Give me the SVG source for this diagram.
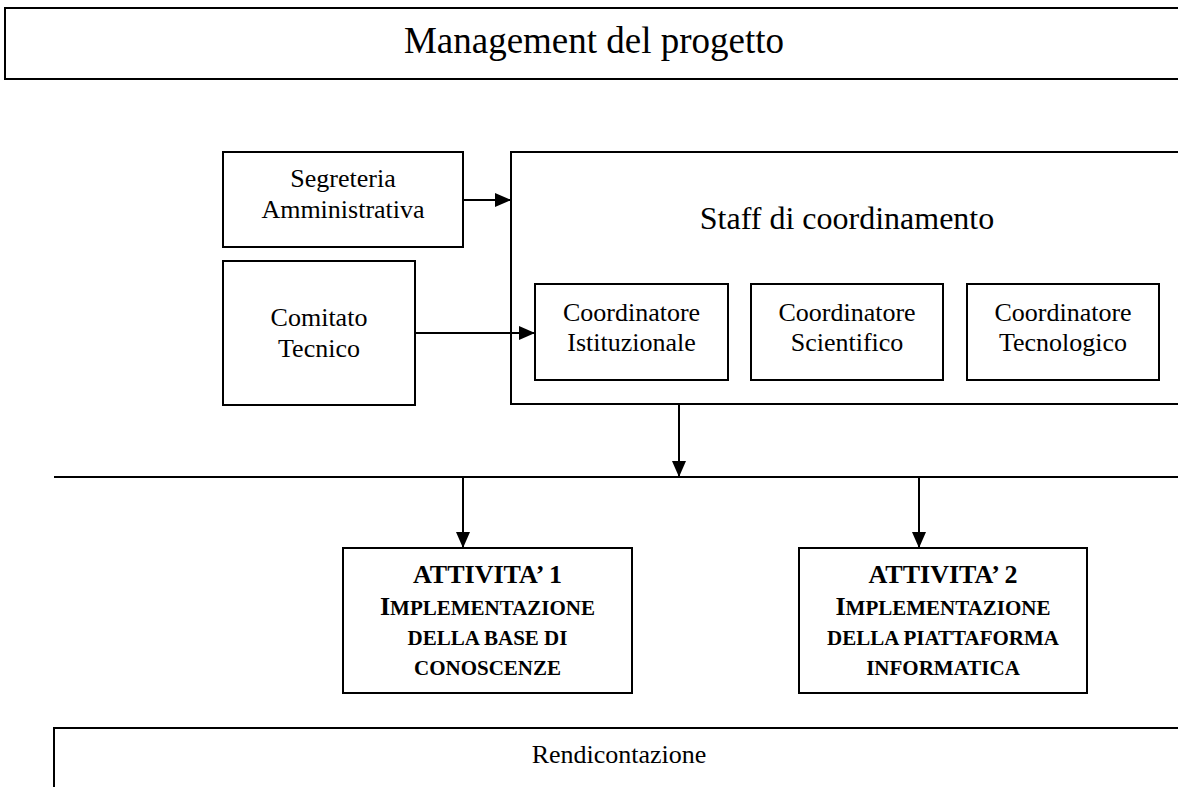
<svg xmlns="http://www.w3.org/2000/svg" width="1178" height="787" viewBox="0 0 1178 787">
<style>
  .box { fill: #fff; stroke: #000; stroke-width: 2; }
  .t { font-family: "Liberation Serif", "Times New Roman", serif; fill: #000; text-anchor: middle; }
  .n { font-size: 26px; }
  .b { font-weight: bold; }
  .conn { stroke: #000; stroke-width: 2; fill: none; }
</style>
<defs>
  <marker id="arr" markerUnits="userSpaceOnUse" markerWidth="16" markerHeight="14" refX="16" refY="7" orient="auto">
    <path d="M0,0 L16,7 L0,14 z" fill="#000"/>
  </marker>
</defs>
<rect width="1178" height="787" fill="#fff"/>

<g id="management">
  <rect class="box" x="5" y="8" width="1190" height="71"/>
  <text class="t" x="594" y="53" font-size="37">Management del progetto</text>
</g>

<g id="segreteria">
  <rect class="box" x="223" y="152" width="240" height="95"/>
  <text class="t n" x="343" y="187">Segreteria</text>
  <text class="t n" x="343" y="218">Amministrativa</text>
</g>

<g id="comitato">
  <rect class="box" x="223" y="261" width="192" height="144"/>
  <text class="t n" x="319" y="326">Comitato</text>
  <text class="t n" x="319" y="357">Tecnico</text>
</g>

<g id="staff">
  <rect class="box" x="511" y="152" width="690" height="252"/>
  <text class="t" x="847" y="229" font-size="32">Staff di coordinamento</text>
</g>

<g id="coord-istituzionale">
  <rect class="box" x="535" y="284" width="193" height="96"/>
  <text class="t n" x="631.5" y="321">Coordinatore</text>
  <text class="t n" x="631.5" y="351">Istituzionale</text>
</g>

<g id="coord-scientifico">
  <rect class="box" x="751" y="284" width="192" height="96"/>
  <text class="t n" x="847" y="321">Coordinatore</text>
  <text class="t n" x="847" y="351">Scientifico</text>
</g>

<g id="coord-tecnologico">
  <rect class="box" x="967" y="284" width="192" height="96"/>
  <text class="t n" x="1063" y="321">Coordinatore</text>
  <text class="t n" x="1063" y="351">Tecnologico</text>
</g>

<g id="attivita1">
  <rect class="box" x="343" y="548" width="289" height="145"/>
  <text class="t b" x="487.5" y="583" font-size="26">ATTIVITA’ 1</text>
  <text class="t b" x="487.5" y="615" font-size="21"><tspan font-size="26">I</tspan>MPLEMENTAZIONE</text>
  <text class="t b" x="487.5" y="645" font-size="21">DELLA BASE DI</text>
  <text class="t b" x="487.5" y="675" font-size="21">CONOSCENZE</text>
</g>

<g id="attivita2">
  <rect class="box" x="799" y="548" width="288" height="145"/>
  <text class="t b" x="943" y="583" font-size="26">ATTIVITA’ 2</text>
  <text class="t b" x="943" y="615" font-size="21"><tspan font-size="26">I</tspan>MPLEMENTAZIONE</text>
  <text class="t b" x="943" y="645" font-size="21">DELLA PIATTAFORMA</text>
  <text class="t b" x="943" y="675" font-size="21">INFORMATICA</text>
</g>

<g id="rendicontazione">
  <path class="box" d="M54,800 V728 H1200"/>
  <text class="t" x="619" y="763" font-size="26">Rendicontazione</text>
</g>

<g id="connectors">
  <line class="conn" x1="54" y1="477" x2="1178" y2="477"/>
  <line class="conn" x1="463" y1="200" x2="511" y2="200" marker-end="url(#arr)"/>
  <line class="conn" x1="415" y1="333" x2="535" y2="333" marker-end="url(#arr)"/>
  <line class="conn" x1="679" y1="404" x2="679" y2="477" marker-end="url(#arr)"/>
  <line class="conn" x1="463" y1="477" x2="463" y2="548" marker-end="url(#arr)"/>
  <line class="conn" x1="919" y1="477" x2="919" y2="548" marker-end="url(#arr)"/>
</g>
</svg>
